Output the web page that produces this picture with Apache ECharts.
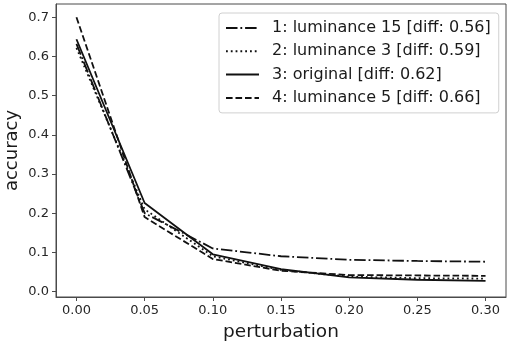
<!DOCTYPE html>
<html><head><meta charset="utf-8">
<script src="https://cdn.jsdelivr.net/npm/echarts@6/dist/echarts.min.js"></script>
<style>html,body{margin:0;padding:0;background:#fff}#c{width:520px;height:345px}</style>
</head><body><div id="c"></div>
<script>
const perturbation = [0.00, 0.05, 0.10, 0.15, 0.20, 0.25, 0.30];
const seriesNames = ['1: luminance 15 [diff: 0.56]', '2: luminance 3 [diff: 0.59]', '3: original [diff: 0.62]', '4: luminance 5 [diff: 0.66]'];
const lum15 = [0.632, 0.200, 0.110, 0.090, 0.081, 0.078, 0.076];
const lum3 = [0.622, 0.210, 0.090, 0.055, 0.038, 0.034, 0.033];
const original = [0.644, 0.226, 0.095, 0.057, 0.036, 0.030, 0.027];
const lum5 = [0.700, 0.190, 0.083, 0.053, 0.042, 0.041, 0.040];
const xTicks = [0.00, 0.05, 0.10, 0.15, 0.20, 0.25, 0.30];
const yTicks = [0.0, 0.1, 0.2, 0.3, 0.4, 0.5, 0.6, 0.7];

const values = [lum15, lum3, original, lum5];
const dashes = [[11.5, 2.9, 1.8, 2.9], [1.8, 3.0], 'solid', [6.6, 2.9]];
const FONT = 'DejaVu Sans';
const FRAME = '#4a4a4a';
const chart = echarts.init(document.getElementById('c'));
chart.setOption({
  animation: false,
  backgroundColor: '#fff',
  textStyle: {fontFamily: FONT},
  grid: {left: 56, right: 14, top: 4, bottom: 48, containLabel: false, outerBoundsMode: 'none',
         show: true, borderColor: FRAME, borderWidth: 1, backgroundColor: 'transparent'},
  legend: {
    left: 219, top: 13, orient: 'vertical',
    itemWidth: 33, itemHeight: 14, itemGap: 5.3,
    padding: [6, 8, 6, 6],
    backgroundColor: '#fff', borderColor: '#d0d0d0', borderWidth: 1, borderRadius: 3,
    itemStyle: {opacity: 0},
    textStyle: {fontFamily: FONT, fontSize: 16, lineHeight: 18, color: '#1a1a1a', padding: [0, 0, 0, 8]},
    data: seriesNames
  },
  xAxis: {
    type: 'value', min: -0.015, max: 0.315,
    name: 'perturbation', nameLocation: 'middle', nameGap: 26, nameMoveOverlap: false,
    nameTextStyle: {fontFamily: FONT, fontSize: 18.5, color: '#1a1a1a'},
    axisLine: {show: true, onZero: false, lineStyle: {color: FRAME, width: 1}},
    axisTick: {show: true, length: 4, customValues: xTicks, lineStyle: {color: FRAME}},
    axisLabel: {customValues: xTicks, margin: 7, fontFamily: FONT, fontSize: 13, color: '#262626', formatter: v => v.toFixed(2)},
    splitLine: {show: false}
  },
  yAxis: {
    type: 'value', min: -0.014, max: 0.734,
    name: 'accuracy', nameLocation: 'middle', nameGap: 35, nameRotate: 90, nameMoveOverlap: false,
    nameTextStyle: {fontFamily: FONT, fontSize: 18, color: '#1a1a1a'},
    axisLine: {show: true, onZero: false, lineStyle: {color: FRAME, width: 1}},
    axisTick: {show: true, length: 4, customValues: yTicks, lineStyle: {color: FRAME}},
    axisLabel: {customValues: yTicks, margin: 7, fontFamily: FONT, fontSize: 13, color: '#262626', formatter: v => v.toFixed(1)},
    splitLine: {show: false}
  },
  series: values.map((vals, i) => ({
    name: seriesNames[i], type: 'line', symbol: 'none', showSymbol: false,
    data: perturbation.map((x, j) => [x, vals[j]]),
    lineStyle: {color: '#111', width: 1.8, type: dashes[i]},
    itemStyle: {color: '#111'}
  }))
});
</script></body></html>
